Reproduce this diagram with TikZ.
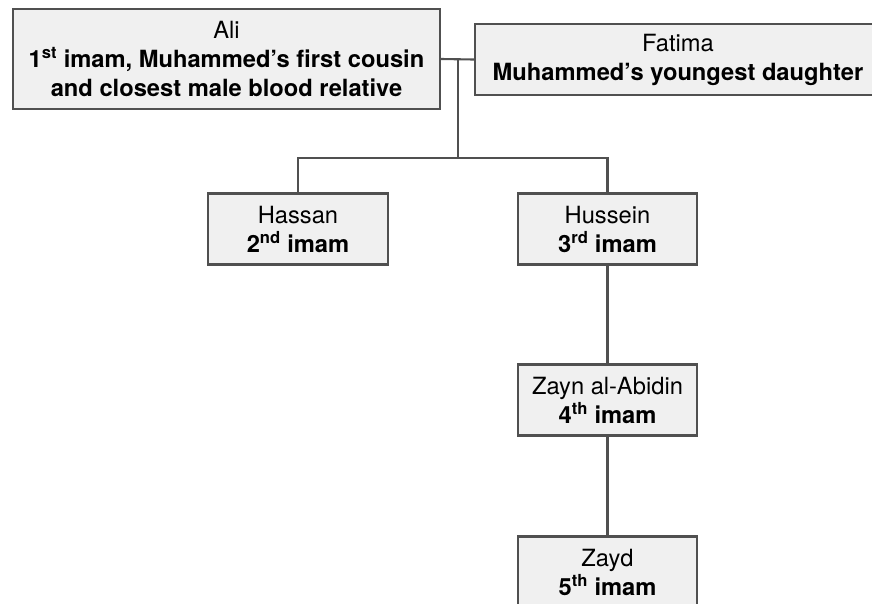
\documentclass[tikz,border=0pt]{standalone}
\usepackage{fontspec}
\setmainfont{TeX Gyre Heros}
\definecolor{linegray}{HTML}{505050}
\definecolor{boxgray}{HTML}{F0F0F0}
\tikzset{
  person/.style={draw=linegray, fill=boxgray, line width=2.1pt, inner sep=0pt,
    align=center, font=\fontsize{23.7}{29}\selectfont},
  conn/.style={draw=linegray, line width=2.1pt}
}
\begin{document}
\begin{tikzpicture}[x=1pt,y=-1pt]
\useasboundingbox (0,0) rectangle (872,603);
\fill[white] (0,0) rectangle (872,603);
\node[person, minimum width=427pt, minimum height=100pt] (ali) at (226.5,59)
  {Ali\\\textbf{1\textsuperscript{st} imam, Muhammed’s first cousin}\\\textbf{and closest male blood relative}};
\node[person, minimum width=406pt, minimum height=71pt] (fat) at (678,59.5)
  {Fatima\\\textbf{Muhammed’s youngest daughter}};
\node[person, minimum width=180pt, minimum height=71pt] (hassan) at (298,229)
  {Hassan\\\textbf{2\textsuperscript{nd} imam}};
\node[person, minimum width=179pt, minimum height=71pt] (hussein) at (607.5,229)
  {Hussein\\\textbf{3\textsuperscript{rd} imam}};
\node[person, minimum width=179pt, minimum height=71pt] (zayn) at (607.5,400)
  {Zayn al-Abidin\\\textbf{4\textsuperscript{th} imam}};
\node[person, minimum width=179pt, minimum height=71pt] (zayd) at (607.5,572)
  {Zayd\\\textbf{5\textsuperscript{th} imam}};
\coordinate (j) at (458,59.5);
\coordinate (bar) at (458,158);
\coordinate (bl) at (298,158);
\coordinate (br) at (607.5,158);
\draw[conn] (ali.east) -- (fat.west);
\draw[conn] (j) -- (bar);
\draw[conn] (hassan.north) -- (bl) -- (br) -- (hussein.north);
\draw[conn] (hussein.south) -- (zayn.north);
\draw[conn] (zayn.south) -- (zayd.north);
\end{tikzpicture}
\end{document}
